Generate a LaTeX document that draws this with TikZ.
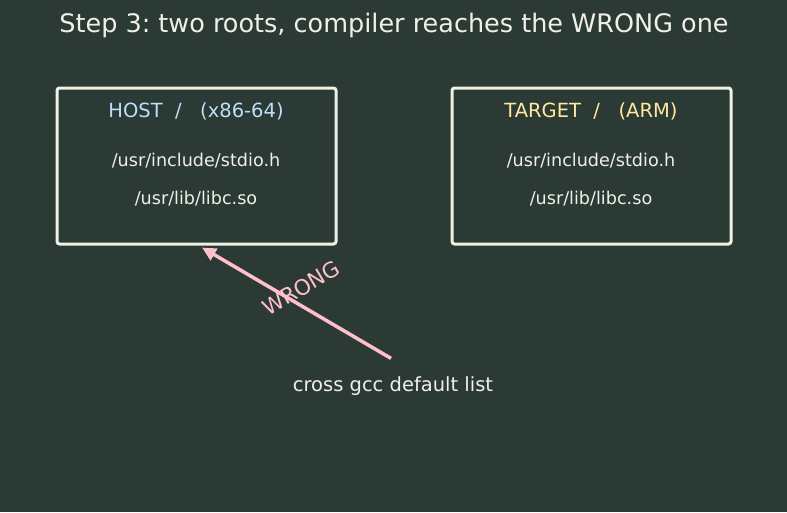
\documentclass[tikz,border=0pt]{standalone}
\usepackage{fontspec}
\setmainfont{DejaVu Sans}
\usetikzlibrary{positioning,arrows.meta,calc}
\definecolor{cBG}    {RGB}{ 43, 58, 52}
\definecolor{cBox}   {RGB}{240,240,228}
\definecolor{cText}  {RGB}{240,240,232}
\definecolor{cHost}  {RGB}{190,222,250}
\definecolor{cTarget}{RGB}{255,232,160}
\definecolor{cWrong} {RGB}{255,192,203}
\tikzset{
  root/.style   = {draw=cBox, line width=3pt, rounded corners=2.5pt,
                   minimum width=279pt, minimum height=156pt, inner sep=0pt},
  path/.style   = {text=cText, font=\fontsize{17.6}{20}\selectfont, inner sep=0pt},
  rhead/.style  = {font=\fontsize{19.5}{22}\selectfont, inner sep=0pt},
  wrong/.style  = {-{Triangle[length=14pt,width=13pt]}, draw=cWrong,
                   line width=3.5pt},
  title/.style  = {text=cText, font=\fontsize{25.5}{30}\selectfont, inner sep=0pt},
}
\frenchspacing
\begin{document}
\begin{tikzpicture}[x=1pt,y=-1pt]
  \fill[cBG] (0,0) rectangle (787,512);
  \useasboundingbox (0,0) rectangle (787,512);

  \node[title] (ttl) at (394,25)
    {Step 3: two roots, compiler reaches the WRONG one};

  %% ---------------- the two sysroots --------------------------------
  \node[root] (host)   at (196.5,166) {};
  \node[root] (target) at (591.5,166) {};

  \node[rhead, text=cHost]   (hosthd) at (196,111) {HOST\ \ /\ \ \ (x86-64)};
  \node[path] (hostinc) at (196,161) {/usr/include/stdio.h};
  \node[path] (hostlib) at (196,199) {/usr/lib/libc.so};

  \node[rhead, text=cTarget] (tgthd)  at (591,111) {TARGET\ \ /\ \ \ (ARM)};
  \node[path] (tgtinc)  at (591,161) {/usr/include/stdio.h};
  \node[path] (tgtlib)  at (591,199) {/usr/lib/libc.so};

  %% ---------------- search list and the wrong pick ------------------
  \node[path, font=\fontsize{19.5}{22}\selectfont] (list) at (393,386)
    {cross gcc default list};
  \coordinate (from) at ($(list.north)+(-2,-18)$);
  \coordinate (hit)  at ($(host.south)+(5.5,2)$);
  \draw[wrong] (from) -- (hit);
  \node[text=cWrong, rotate=30.6, font=\fontsize{21.5}{24}\selectfont,
        inner sep=0pt] (lbl) at (301,288) {WRONG};
\end{tikzpicture}
\end{document}
